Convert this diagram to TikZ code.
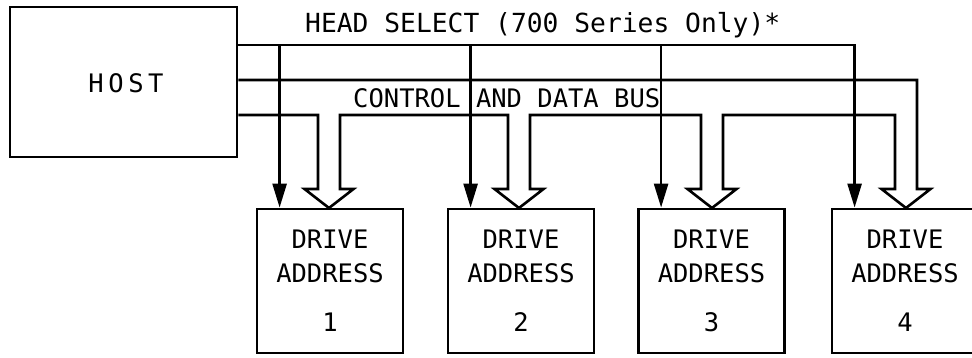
\documentclass[tikz,border=0pt]{standalone}
\usepackage{fontspec}
\newfontfamily\diagfont{DejaVu Sans Mono}
\newfontfamily\hostfont[LetterSpace=18]{DejaVu Sans Mono}
\usetikzlibrary{arrows.meta}
\begin{document}
\begin{tikzpicture}[x=1pt,y=-1pt,
  wire/.style={line width=2.6pt},
  sel/.style={wire,-{Triangle[width=14pt,length=24pt]}},
  box/.style={draw,line width=2.8pt,inner sep=0pt},
  drivebox/.style={box,minimum width=146pt,minimum height=144pt},
  lbl/.style={inner sep=0pt,anchor=base,font=\diagfont\fontsize{25.5}{30}\selectfont},
]
\clip (0,0) rectangle (972,358);
\fill[white] (0,0) rectangle (972,358);

% host and the four drives
\node[box,minimum width=227pt,minimum height=150pt] (host) at (123.5,82) {};
\node[lbl,inner sep=0pt,font=\hostfont\fontsize{25.5}{30}\selectfont] (hosttxt) at (126,93) {HOST};
\node[drivebox] (d1) at (330,281) {};
\node[drivebox] (d2) at (521,281) {};
\node[drivebox] (d3) at (711.5,281) {};
\node[drivebox] (d4) at (905,281) {};

\foreach \d/\n in {d1/1,d2/2,d3/3,d4/4}{
  \node[lbl] (\d a) at ([yshift=-41pt]\d.north) {DRIVE};
  \node[lbl] (\d b) at ([yshift=-75pt]\d.north) {ADDRESS};
  \node[lbl] (\d c) at ([yshift=-124pt]\d.north) {\n};
}

% rail heights
\coordinate (hs) at (0,45);
\coordinate (bt) at (0,80);
\coordinate (bb) at (0,115);

% head select line with its four taps
\draw[sel] (host.east |- hs) -| ([xshift=24pt]d4.north west);
\foreach \d in {d1,d2,d3}{
  \draw[sel] ([xshift=24pt]\d.north west |- hs) -- ([xshift=24pt]\d.north west);
}

% control and data bus, drawn as a hollow channel with hollow arrowheads
\draw[wire,line join=miter] (host.east |- bt)
  -- (917,80) -- (917,189) -- (930.5,189) -- (906,208) -- (881.5,189) -- (895,189) -- (895,115)
  -- (723,115) -- (723,189) -- (736.5,189) -- (712,208) -- (687.5,189) -- (701,189) -- (701,115)
  -- (530,115) -- (530,189) -- (543.5,189) -- (519,208) -- (494.5,189) -- (508,189) -- (508,115)
  -- (340,115) -- (340,189) -- (353.5,189) -- (329,208) -- (304.5,189) -- (318,189) -- (318,115)
  -- (host.east |- bb);

% labels
\node[lbl,anchor=base west,font=\diagfont\fontsize{26.3}{30}\selectfont] (hstxt) at (305,33) {HEAD SELECT (700 Series Only)*};
\node[lbl,anchor=base west] (bustxt) at (353,108) {CONTROL AND DATA BUS};
\end{tikzpicture}
\end{document}
